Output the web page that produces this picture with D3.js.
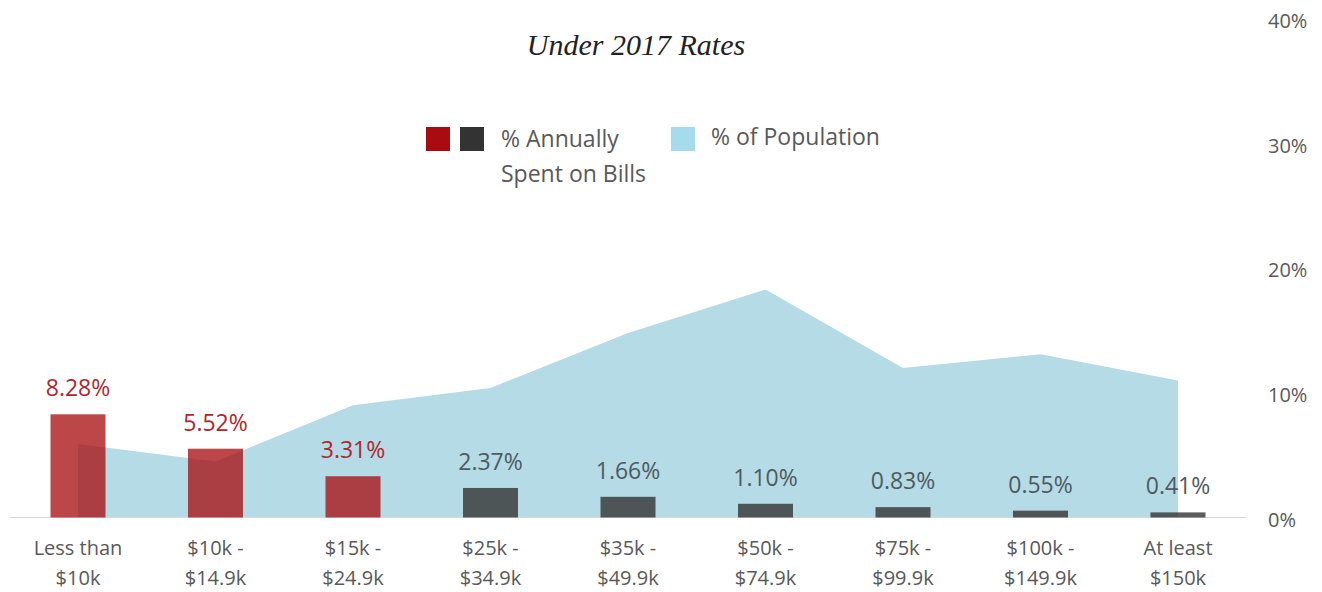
<!DOCTYPE html>
<html>
<head>
<meta charset="utf-8">
<script src="https://cdn.jsdelivr.net/npm/d3@7"></script>
<style>
  html, body { margin: 0; padding: 0; background: #fff; }
  svg { display: block; }
</style>
</head>
<body>
<svg id="chart" width="1322" height="592"></svg>
<script>
// ---- data ----
const categories = [
  ["Less than", "$10k"],
  ["$10k -", "$14.9k"],
  ["$15k -", "$24.9k"],
  ["$25k -", "$34.9k"],
  ["$35k -", "$49.9k"],
  ["$50k -", "$74.9k"],
  ["$75k -", "$99.9k"],
  ["$100k -", "$149.9k"],
  ["At least", "$150k"]
];
const spentOnBills = [8.28, 5.52, 3.31, 2.37, 1.66, 1.10, 0.83, 0.55, 0.41];
const spentLabels = ["8.28%", "5.52%", "3.31%", "2.37%", "1.66%", "1.10%", "0.83%", "0.55%", "0.41%"];
const highlighted = [true, true, true, false, false, false, false, false, false];
const population = [5.9, 4.5, 9.0, 10.4, 14.8, 18.3, 12.0, 13.1, 11.0];
const yTicks = [0, 10, 20, 30, 40];
const yTickLabels = ["0%", "10%", "20%", "30%", "40%"];
const titleText = "Under 2017 Rates";
const legendSpent = ["% Annually", "Spent on Bills"];
const legendPop = "% of Population";

// ---- drawing ----
const svg = d3.select("#chart");
const FONT = "'Open Sans', 'Noto Sans', sans-serif";
const idx = categories.map((d, i) => i);

const x = d3.scaleBand().domain(idx).range([9.25, 1246.75]).paddingInner(0.6).paddingOuter(0.3);
const y = d3.scaleLinear().domain([0, 40]).range([517.5, 19]);
const cx = i => x(i) + x.bandwidth() / 2;

// title
svg.append("text")
  .attr("x", 636).attr("y", 55)
  .attr("text-anchor", "middle")
  .attr("font-family", "'Liberation Serif', 'DejaVu Serif', serif")
  .attr("font-style", "italic")
  .attr("font-size", 30)
  .attr("fill", "#222")
  .text(titleText);

// area (% of population)
const area = d3.area()
  .x((d, i) => cx(i))
  .y0(y(0))
  .y1(d => y(d));
svg.append("path")
  .datum(population)
  .attr("d", area)
  .attr("fill", "#b5dbe6");

// baseline axis
svg.append("line")
  .attr("x1", x.range()[0]).attr("x2", x.range()[1])
  .attr("y1", y(0)).attr("y2", y(0))
  .attr("stroke", "#d9d9d9").attr("stroke-width", 1);

// bars
svg.append("g").selectAll("rect")
  .data(spentOnBills)
  .join("rect")
  .attr("x", (d, i) => x(i))
  .attr("width", x.bandwidth())
  .attr("y", d => y(d))
  .attr("height", d => y(0) - y(d))
  .attr("fill", (d, i) => highlighted[i] ? "#a80c10" : "#333333")
  .attr("fill-opacity", (d, i) => highlighted[i] ? 0.76 : 0.8);

// value labels
svg.append("g").selectAll("text")
  .data(spentOnBills)
  .join("text")
  .attr("x", (d, i) => cx(i))
  .attr("y", d => y(d) - 18)
  .attr("text-anchor", "middle")
  .attr("font-family", FONT)
  .attr("font-size", 23)
  .attr("fill", (d, i) => highlighted[i] ? "#b0272d" : "#4f5a5f")
  .text((d, i) => spentLabels[i]);

// x category labels
const xl = svg.append("g").selectAll("text")
  .data(categories)
  .join("text")
  .attr("text-anchor", "middle")
  .attr("font-family", FONT)
  .attr("font-size", 20)
  .attr("fill", "#595959");
xl.each(function(d, i) {
  const t = d3.select(this);
  d.forEach((line, j) => {
    t.append("tspan").attr("x", cx(i)).attr("y", 555 + j * 30).text(line);
  });
});

// right axis tick labels
svg.append("g").selectAll("text")
  .data(yTicks)
  .join("text")
  .attr("x", 1268)
  .attr("y", d => y(d) + 2)
  .attr("dy", "0.35em")
  .attr("font-family", FONT)
  .attr("font-size", 20)
  .attr("fill", "#595959")
  .text((d, i) => yTickLabels[i]);

// legend
const lg = svg.append("g");
lg.append("rect").attr("x", 426).attr("y", 127).attr("width", 24).attr("height", 24).attr("fill", "#a80c10");
lg.append("rect").attr("x", 460).attr("y", 127).attr("width", 24).attr("height", 24).attr("fill", "#333333");
lg.append("rect").attr("x", 671).attr("y", 127).attr("width", 24).attr("height", 24).attr("fill", "#a6dbec");
const lt = lg.append("text")
  .attr("font-family", FONT).attr("font-size", 23).attr("fill", "#595959");
legendSpent.forEach((line, j) => {
  lt.append("tspan").attr("x", 501).attr("y", 146.5 + j * 35).text(line);
});
lg.append("text")
  .attr("x", 711).attr("y", 145)
  .attr("font-family", FONT).attr("font-size", 23).attr("fill", "#595959")
  .text(legendPop);
</script>
</body>
</html>
